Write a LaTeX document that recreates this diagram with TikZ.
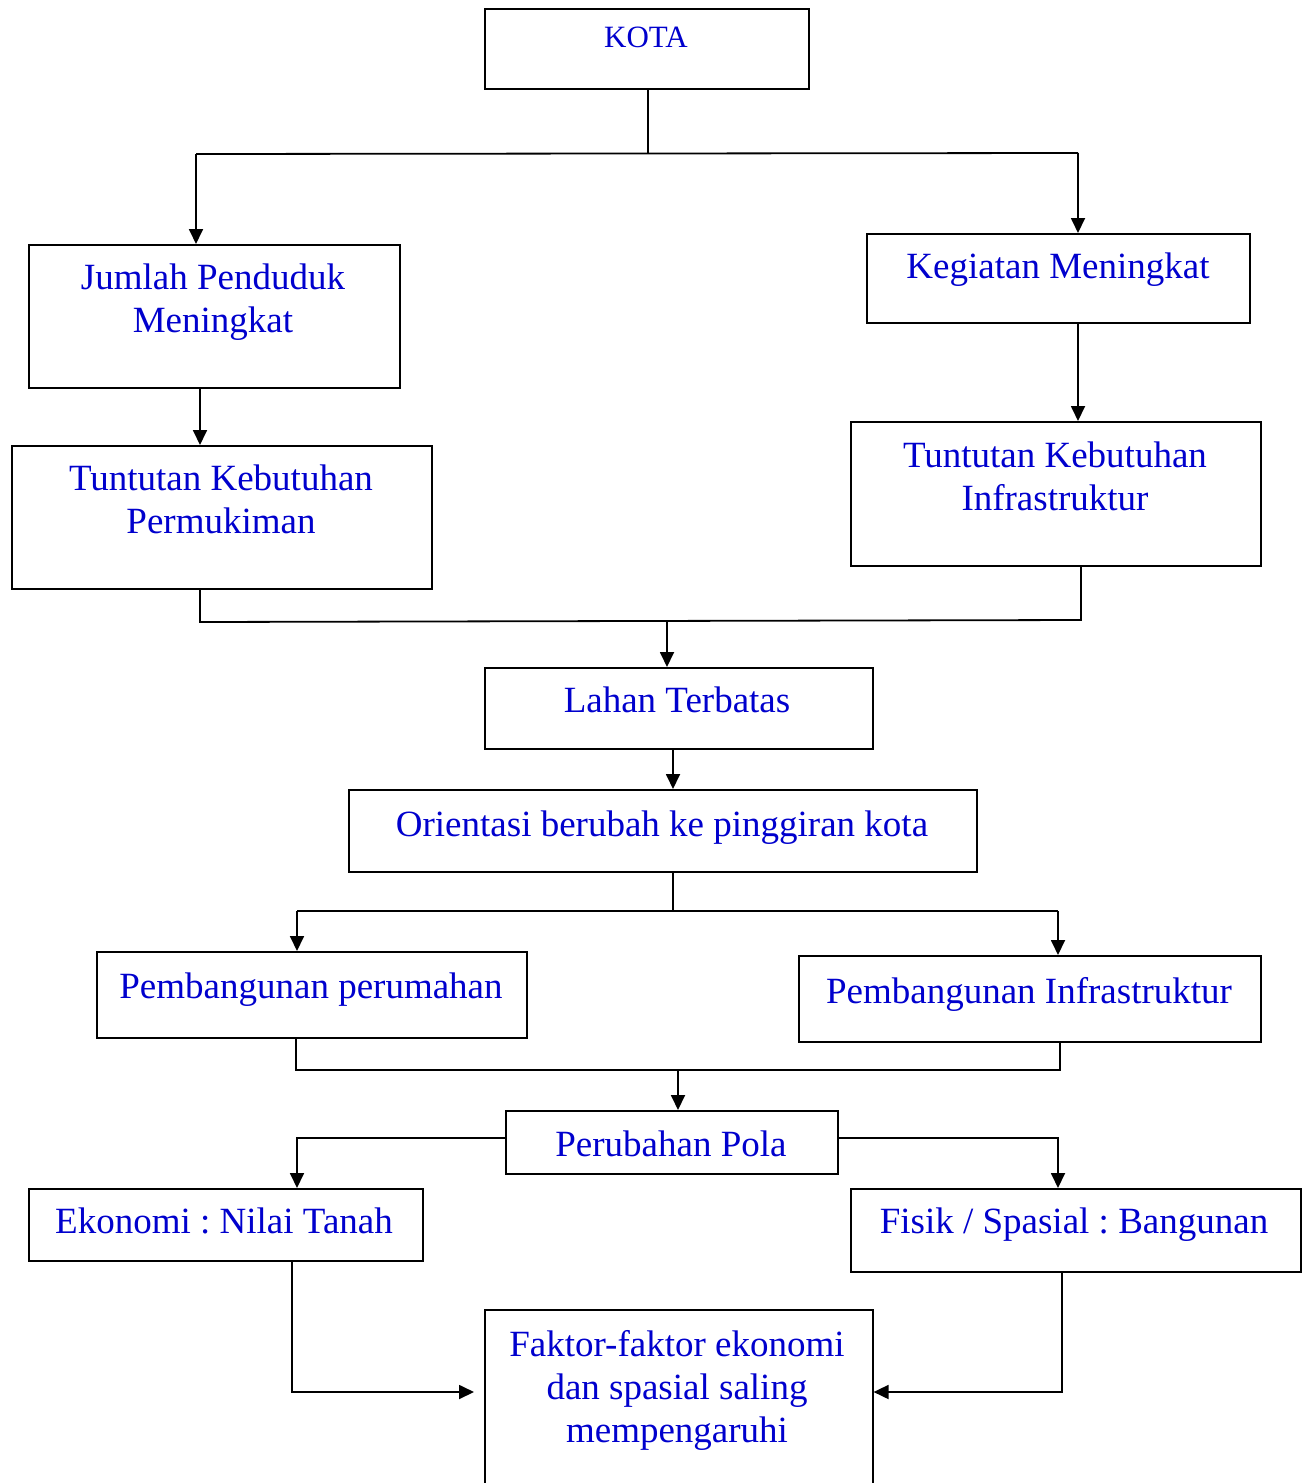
\documentclass[tikz,border=0pt]{standalone}
\usepackage{fontspec}
\setmainfont{Liberation Serif}
\frenchspacing
\usetikzlibrary{arrows.meta, positioning, calc}

\definecolor{txtblue}{RGB}{0,0,205}

\begin{document}
\begin{tikzpicture}[
    x=1pt, y=-1pt,
    box/.style={
        draw,
        line width=1.6pt,
        inner sep=0pt,
        anchor=north west
    },
    lbl/.style={
        anchor=north,
        inner sep=0pt,
        align=center,
        text=txtblue,
        font=\fontsize{37}{43}\selectfont
    },
    line/.style={
        line width=1.8pt
    },
    arr/.style={
        line,
        -{Triangle[length=15pt, width=14pt]}
    }
]
    \useasboundingbox (0,0) rectangle (1302,1483);

    % Boxes
    \node[box, minimum width=324pt, minimum height=80pt]  (kota)      at (484,8)    {};
    \node[box, minimum width=371pt, minimum height=143pt] (jumlah)    at (28,244)   {};
    \node[box, minimum width=420pt, minimum height=143pt] (tuntP)     at (11,445)   {};
    \node[box, minimum width=383pt, minimum height=89pt]  (kegiatan)  at (866,233)  {};
    \node[box, minimum width=410pt, minimum height=144pt] (tuntI)     at (850,421)  {};
    \node[box, minimum width=388pt, minimum height=81pt]  (lahan)     at (484,667)  {};
    \node[box, minimum width=628pt, minimum height=82pt]  (orientasi) at (348,789)  {};
    \node[box, minimum width=430pt, minimum height=86pt]  (pemRumah)  at (96,951)   {};
    \node[box, minimum width=462pt, minimum height=86pt]  (pemInfra)  at (798,955)  {};
    \node[box, minimum width=332pt, minimum height=63pt]  (perubahan) at (505,1110) {};
    \node[box, minimum width=394pt, minimum height=72pt]  (ekonomi)   at (28,1188)  {};
    \node[box, minimum width=450pt, minimum height=83pt]  (fisik)     at (850,1188) {};
    \node[box, minimum width=388pt, minimum height=200pt] (faktor)    at (484,1309) {};

    % Texts, set at the top of each box
    \node[lbl, font=\fontsize{31}{36}\selectfont] (kotaT) at (646,27) {KOTA};
    \node[lbl] (jumlahT)    at (213,264)  {Jumlah Penduduk\\Meningkat};
    \node[lbl] (tuntPT)     at (221,465)  {Tuntutan Kebutuhan\\Permukiman};
    \node[lbl] (kegiatanT)  at (1058,253) {Kegiatan Meningkat};
    \node[lbl] (tuntIT)     at (1055,442) {Tuntutan Kebutuhan\\Infrastruktur};
    \node[lbl] (lahanT)     at (677,687)  {Lahan Terbatas};
    \node[lbl] (orientasiT) at (662,811)  {Orientasi berubah ke pinggiran kota};
    \node[lbl] (pemRumahT)  at (311,973)  {Pembangunan perumahan};
    \node[lbl] (pemInfraT)  at (1029,977) {Pembangunan Infrastruktur};
    \node[lbl] (perubahanT) at (671,1131) {Perubahan Pola};
    \node[lbl] (ekonomiT)   at (224,1208) {Ekonomi : Nilai Tanah};
    \node[lbl] (fisikT)     at (1074,1208) {Fisik / Spasial : Bangunan};
    \node[lbl] (faktorT)    at (677,1330) {Faktor-faktor ekonomi\\dan spasial saling\\mempengaruhi};

    % Junction points
    \coordinate (kotaSplit)  at (648,153);
    \coordinate (leftA)      at (196,154);
    \coordinate (rightA)     at (1078,153);
    \coordinate (leftB)      at (200,622);
    \coordinate (rightB)     at (1081,620);
    \coordinate (mergeB)     at (667,621);
    \coordinate (oriSplit)   at (673,911);
    \coordinate (leftC)      at (297,911);
    \coordinate (rightC)     at (1058,911);
    \coordinate (leftD)      at (296,1070);
    \coordinate (rightD)     at (1060,1070);
    \coordinate (mergeD)     at (678,1070);
    \coordinate (leftE)      at (297,1138);
    \coordinate (rightE)     at (1058,1138);
    \coordinate (ekoTurn)    at (292,1392);
    \coordinate (fisTurn)    at (1062,1392);

    % KOTA -> two branches
    \draw[line] (kota.south -| kotaSplit) -- (kotaSplit);
    \draw[line] (leftA) -- (rightA);
    \draw[arr] (leftA) -- (leftA |- jumlah.north);
    \draw[arr] (rightA) -- (rightA |- kegiatan.north);

    % Branches downwards
    \draw[arr] (jumlah.south -| leftB) -- (tuntP.north -| leftB);
    \draw[arr] (kegiatan.south -| rightA) -- (tuntI.north -| rightA);

    % Merge into Lahan Terbatas
    \draw[line] (tuntP.south -| leftB) -- (leftB) -- (rightB) -- (tuntI.south -| rightB);
    \draw[arr] (mergeB) -- (mergeB |- lahan.north);
    \draw[arr] (lahan.south -| oriSplit) -- (orientasi.north -| oriSplit);

    % Orientasi -> two developments
    \draw[line] (orientasi.south -| oriSplit) -- (oriSplit);
    \draw[line] (leftC) -- (rightC);
    \draw[arr] (leftC) -- (leftC |- pemRumah.north);
    \draw[arr] (rightC) -- (rightC |- pemInfra.north);

    % Merge into Perubahan Pola
    \draw[line] (pemRumah.south -| leftD) -- (leftD) -- (rightD) -- (pemInfra.south -| rightD);
    \draw[arr] (mergeD) -- (mergeD |- perubahan.north);

    % Perubahan Pola -> two aspects
    \draw[arr] (perubahan.west |- leftE) -- (leftE) -- (leftE |- ekonomi.north);
    \draw[arr] (perubahan.east |- rightE) -- (rightE) -- (rightE |- fisik.north);

    % Both aspects -> Faktor
    \draw[arr, shorten >=10pt] (ekonomi.south -| ekoTurn) -- (ekoTurn) -- (ekoTurn -| faktor.west);
    \draw[arr] (fisik.south -| fisTurn) -- (fisTurn) -- (fisTurn -| faktor.east);

\end{tikzpicture}
\end{document}
